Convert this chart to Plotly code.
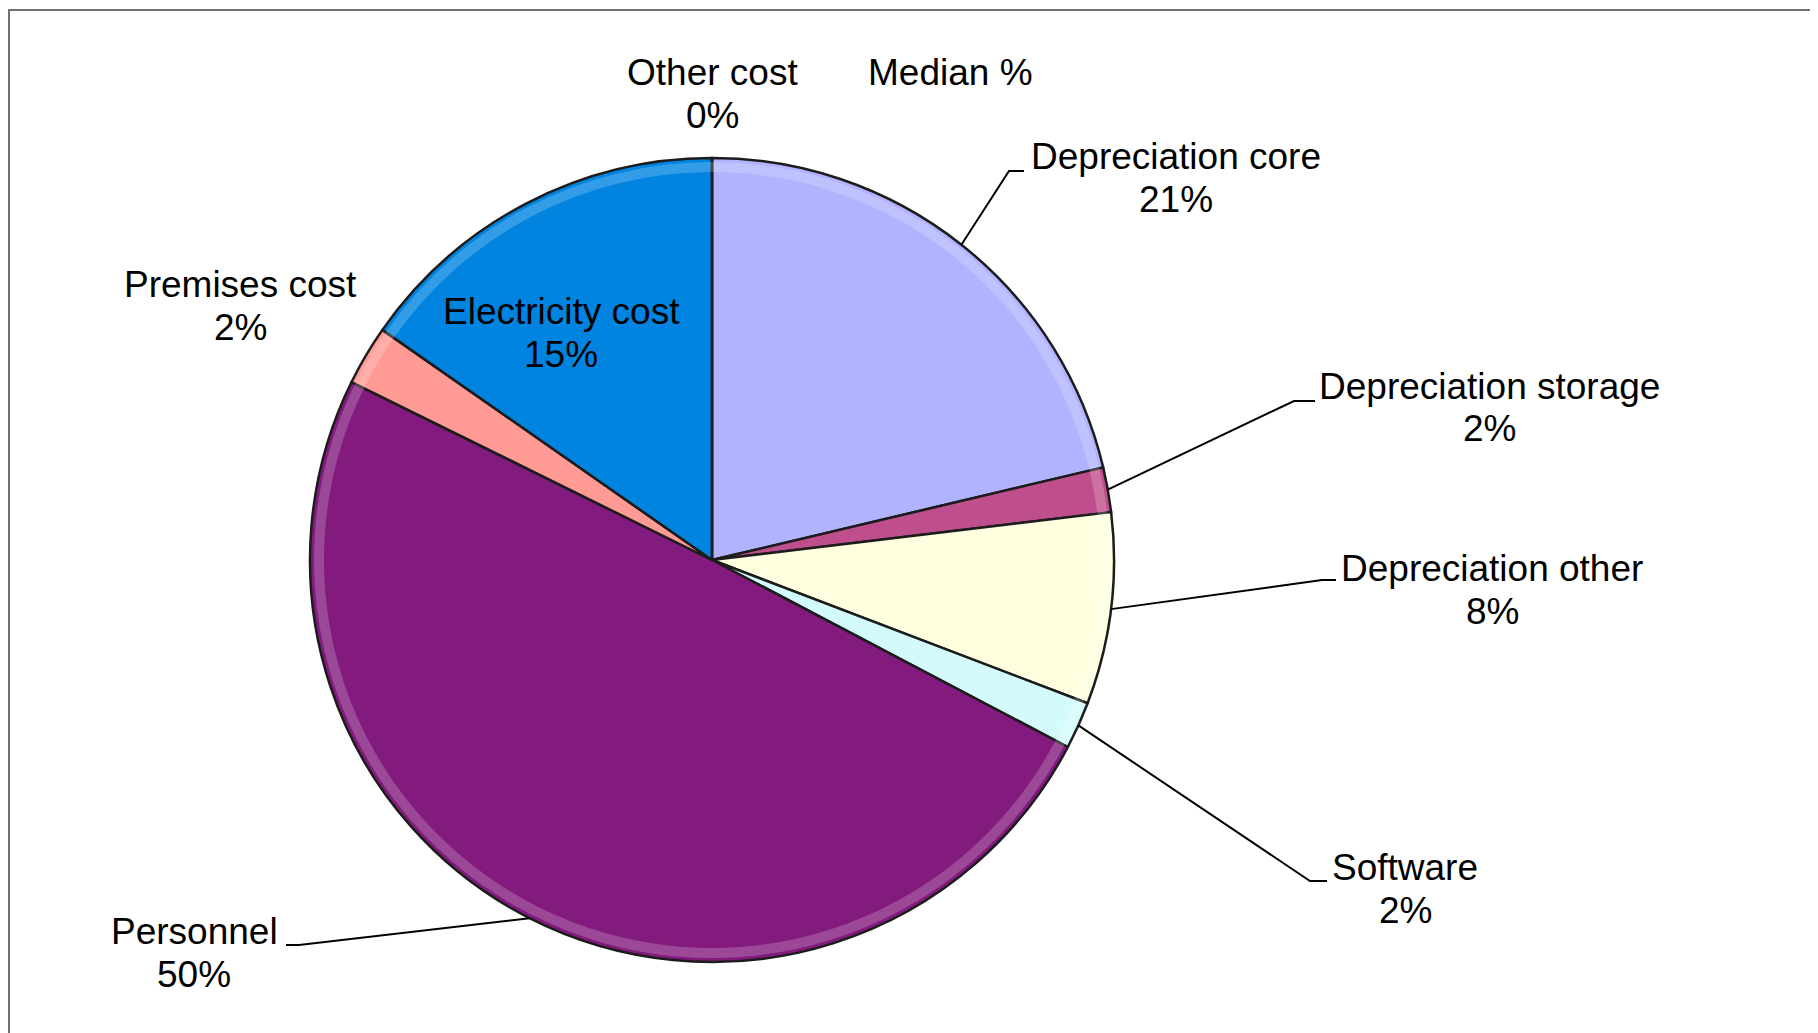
import math
import plotly.graph_objects as go

# ---- data ----
categories = ["Depreciation core", "Depreciation storage", "Depreciation other",
              "Software", "Personnel", "Premises cost", "Electricity cost", "Other cost"]
values = [21.3, 1.8, 7.7, 1.9, 49.6, 2.4, 15.3, 0.0]
colors = ["#B1B3FF", "#BE4F8C", "#FFFFE0", "#D4FBFB", "#831B7E", "#FF9A94", "#0084E0", "#808080"]
series_name = "Median %"

# ---- layout geometry (pixels, page coordinates; page body has an 8px margin) ----
OFF = 8
W, H = 1818, 1033
CX, CY, R = 712, 560, 402
FONT = dict(family="Liberation Sans, Arial, sans-serif", size=37, color="#000000")
LINE_GAP = 43

# label placement: (center x, first line y, leader elbow (x,y), leader end x) ; None = no leader
label_pos = {
    "Depreciation core": (1176, 157, (1009, 171), 1024),
    "Depreciation storage": (1489, 386, (1294, 401), 1315),
    "Depreciation other": (1492, 568, (1322, 580), 1336),
    "Software": (1405, 867, (1310, 881), 1327),
    "Personnel": (194, 931, (299, 945), 286),
    "Premises cost": (241, 284, None, None),
    "Electricity cost": (561, 311, None, None),
    "Other cost": (712, 72, None, None),
}


def px(x):
    return (x - OFF) / W


def py(y):
    return 1 - (y - OFF) / H


dom = dict(x=[px(CX - R), px(CX + R)], y=[py(CY + R), py(CY - R)])

fig = go.Figure()
fig.add_trace(go.Pie(
    labels=categories, values=values, sort=False, direction="clockwise",
    rotation=0, textinfo="none", hoverinfo="label+percent", name=series_name,
    marker=dict(colors=colors, line=dict(color="#1c1c1c", width=2.5)),
    domain=dom, showlegend=False,
))
# subtle bevel highlight ring (same slices, lighter band near the rim)
r2 = R - 4
fig.add_trace(go.Pie(
    labels=categories, values=values, sort=False, direction="clockwise",
    rotation=0, textinfo="none", hoverinfo="skip", hole=0.975,
    marker=dict(colors=["rgba(255,255,255,0.2)"] * len(values), line=dict(width=0)),
    domain=dict(x=[px(CX - r2), px(CX + r2)], y=[py(CY + r2), py(CY - r2)]),
    showlegend=False,
))

total = sum(values)
annotations = []
shapes = []
cum = 0.0
for cat, v in zip(categories, values):
    mid_frac = (cum + v / 2) / total
    cum += v
    ang = 2 * math.pi * mid_frac
    sx = CX + R * math.sin(ang)
    sy = CY - R * math.cos(ang)
    lx, ly, elbow, endx = label_pos[cat]
    pct = f"{round(v / total * 100)}%"
    annotations.append(dict(x=px(lx), y=py(ly), xref="paper", yref="paper", text=cat,
                            showarrow=False, font=FONT, xanchor="center", yanchor="middle"))
    annotations.append(dict(x=px(lx), y=py(ly + LINE_GAP), xref="paper", yref="paper", text=pct,
                            showarrow=False, font=FONT, xanchor="center", yanchor="middle"))
    if elbow is not None:
        ex, ey = elbow
        shapes.append(dict(type="path", xref="paper", yref="paper",
                           path=f"M {px(sx)},{py(sy)} L {px(ex)},{py(ey)} L {px(endx)},{py(ey)}",
                           line=dict(color="#000000", width=2)))

annotations.append(dict(x=px(950), y=py(72), xref="paper", yref="paper", text=series_name,
                        showarrow=False, font=FONT, xanchor="center", yanchor="middle"))

# chart frame
shapes.append(dict(type="rect", xref="paper", yref="paper", x0=px(9), y0=py(10), x1=1.05, y1=-0.05,
                   line=dict(color="#707070", width=2), fillcolor="rgba(0,0,0,0)", layer="below"))

fig.update_layout(
    width=W, height=H, margin=dict(l=0, r=0, t=0, b=0),
    paper_bgcolor="#FFFFFF", plot_bgcolor="#FFFFFF",
    annotations=annotations, shapes=shapes,
)

fig.write_html("out.html")
